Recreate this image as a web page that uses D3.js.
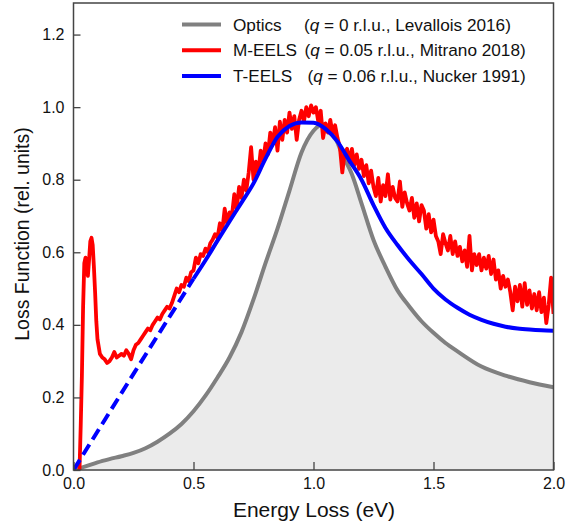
<!DOCTYPE html>
<html>
<head>
<meta charset="utf-8">
<script src="https://cdn.jsdelivr.net/npm/d3@7"></script>
<style>
  body { margin: 0; background: #fff; }
  svg { display: block; font-family: "Liberation Sans", Arial, sans-serif; }
</style>
</head>
<body>
<svg id="chart" width="572" height="522"></svg>
<script>
// Loss function vs energy loss: optics, M-EELS and T-EELS

// Optics (q = 0), Levallois 2016
const opticsE = [0, 0.05, 0.1, 0.15, 0.2, 0.25, 0.3, 0.35, 0.4, 0.45, 0.5, 0.55, 0.6, 0.65, 0.7, 0.75, 0.8, 0.85, 0.9, 0.95, 1.0, 1.04, 1.08, 1.12, 1.16, 1.2, 1.25, 1.3, 1.35, 1.4, 1.45, 1.5, 1.55, 1.6, 1.7, 1.8, 1.9, 2.0];
const opticsL = [0, 0.01, 0.021, 0.03, 0.038, 0.047, 0.06, 0.078, 0.1, 0.127, 0.162, 0.205, 0.255, 0.31, 0.38, 0.47, 0.57, 0.665, 0.77, 0.875, 0.935, 0.953, 0.93, 0.87, 0.815, 0.735, 0.634, 0.56, 0.495, 0.45, 0.41, 0.378, 0.35, 0.327, 0.285, 0.26, 0.242, 0.228];

// T-EELS (q = 0.06), Nucker 1991 -- dashed extrapolation below 0.5 eV
const tEelsDashE = [0, 0.25, 0.5];
const tEelsDashL = [0, 0.265, 0.527];
const tEelsE = [0.5, 0.55, 0.6, 0.65, 0.7, 0.75, 0.8, 0.85, 0.9, 0.95, 1.0, 1.05, 1.1, 1.15, 1.2, 1.25, 1.3, 1.35, 1.4, 1.45, 1.5, 1.55, 1.6, 1.65, 1.7, 1.75, 1.8, 1.85, 1.9, 1.95, 2.0];
const tEelsL = [0.527, 0.578, 0.632, 0.685, 0.737, 0.79, 0.858, 0.918, 0.948, 0.958, 0.957, 0.94, 0.905, 0.852, 0.8, 0.73, 0.667, 0.62, 0.578, 0.54, 0.5, 0.47, 0.447, 0.428, 0.414, 0.403, 0.395, 0.39, 0.387, 0.385, 0.384];

// M-EELS (q = 0.05), Mitrano 2018 -- low-energy elastic line
const mEelsLowE = [0.025, 0.03, 0.035, 0.04, 0.045, 0.05, 0.055, 0.06, 0.065, 0.07, 0.075, 0.08, 0.085, 0.09, 0.095];
const mEelsLowL = [0, 0.12, 0.26, 0.45, 0.57, 0.585, 0.55, 0.535, 0.58, 0.63, 0.64, 0.62, 0.56, 0.49, 0.41];
// then sampled every 0.01 eV from 0.10 to 2.00
const mEelsStart = 0.10, mEelsStep = 0.01;
const mEelsL = [
  0.36, 0.32, 0.31, 0.305, 0.295, 0.30, 0.31, 0.325, 0.31, 0.315,
  0.32, 0.315, 0.33, 0.32, 0.305, 0.33, 0.345, 0.35, 0.36, 0.37,
  0.38, 0.39, 0.385, 0.40, 0.41, 0.42, 0.415, 0.43, 0.44, 0.45,
  0.445, 0.46, 0.48, 0.50, 0.49, 0.51, 0.505, 0.53, 0.52, 0.545,
  0.55, 0.585, 0.57, 0.595, 0.59, 0.61, 0.60, 0.625, 0.635, 0.65,
  0.64, 0.68, 0.66, 0.72, 0.68, 0.71, 0.70, 0.76, 0.72, 0.78,
  0.75, 0.80, 0.77, 0.82, 0.89, 0.80, 0.85, 0.82, 0.88, 0.85,
  0.90, 0.87, 0.93, 0.90, 0.945, 0.88, 0.96, 0.91, 0.965, 0.93,
  0.985, 0.94, 0.975, 0.91, 0.965, 0.99, 0.96, 1.0, 0.975, 1.005,
  0.985, 1.0, 0.96, 0.99, 0.915, 0.955, 0.93, 0.965, 0.925, 0.95,
  0.915, 0.89, 0.82, 0.875, 0.885, 0.85, 0.885, 0.84, 0.87, 0.83,
  0.855, 0.81, 0.84, 0.79, 0.825, 0.78, 0.755, 0.805, 0.74, 0.785,
  0.755, 0.815, 0.745, 0.78, 0.75, 0.74, 0.795, 0.725, 0.765, 0.735,
  0.715, 0.75, 0.695, 0.735, 0.685, 0.73, 0.715, 0.665, 0.705, 0.655,
  0.69, 0.645, 0.63, 0.595, 0.65, 0.625, 0.605, 0.645, 0.595, 0.63,
  0.59, 0.615, 0.575, 0.605, 0.56, 0.645, 0.55, 0.595, 0.565, 0.595,
  0.55, 0.585, 0.555, 0.59, 0.54, 0.58, 0.525, 0.55, 0.50, 0.535,
  0.505, 0.525, 0.49, 0.44, 0.505, 0.465, 0.51, 0.45, 0.515, 0.455,
  0.495, 0.445, 0.485, 0.44, 0.49, 0.435, 0.475, 0.405, 0.455, 0.53,
  0.43
];

const xTicks = [0, 0.5, 1.0, 1.5, 2.0];
const yTicks = [0, 0.2, 0.4, 0.6, 0.8, 1.0, 1.2];

const legendLabels = ["Optics", "M-EELS", "T-EELS"];
const legendNotes = [
  ["0", "Levallois 2016"],
  ["0.05", "Mitrano 2018"],
  ["0.06", "Nucker 1991"]
];
const colors = ["#808080", "#ff0000", "#0000ff"];

const plotLeft = 73.5, plotRight = 553.5, plotTop = 3, plotBottom = 470;

const x = d3.scaleLinear().domain([0, 2]).range([plotLeft, plotRight]);
const y = d3.scaleLinear().domain([0, 1.287]).range([plotBottom, plotTop]);

const svg = d3.select("#chart");

svg.append("defs").append("clipPath").attr("id", "plot")
  .append("rect")
  .attr("x", plotLeft).attr("y", plotTop)
  .attr("width", plotRight - plotLeft).attr("height", plotBottom - plotTop);

const toPts = (xs, ys) => xs.map((e, i) => [e, ys[i]]);
const opticsPts = toPts(opticsE, opticsL);
const redPts = toPts(mEelsLowE, mEelsLowL)
  .concat(mEelsL.map((v, i) => [mEelsStart + i * mEelsStep, v]));

const line = d3.line().x(d => x(d[0])).y(d => y(d[1]));
const smooth = d3.line().x(d => x(d[0])).y(d => y(d[1])).curve(d3.curveMonotoneX);
const area = d3.area().x(d => x(d[0])).y0(y(0)).y1(d => y(d[1])).curve(d3.curveMonotoneX);

const plot = svg.append("g").attr("clip-path", "url(#plot)");

plot.append("path")
  .attr("d", area(opticsPts))
  .attr("fill", "#ebebeb");

plot.append("path")
  .attr("d", smooth(opticsPts))
  .attr("fill", "none")
  .attr("stroke", colors[0])
  .attr("stroke-width", 4);

plot.append("path")
  .attr("d", line(redPts))
  .attr("fill", "none")
  .attr("stroke", colors[1])
  .attr("stroke-width", 3.8)
  .attr("stroke-linejoin", "round");

plot.append("path")
  .attr("d", line(toPts(tEelsDashE, tEelsDashL)))
  .attr("fill", "none")
  .attr("stroke", colors[2])
  .attr("stroke-width", 4)
  .attr("stroke-dasharray", "12,6");

plot.append("path")
  .attr("d", smooth(toPts(tEelsE, tEelsL)))
  .attr("fill", "none")
  .attr("stroke", colors[2])
  .attr("stroke-width", 4);

// axes, ticks pointing inward
const xAxis = svg.append("g")
  .attr("transform", `translate(0,${plotBottom})`)
  .call(d3.axisBottom(x).tickValues(xTicks).tickFormat(d3.format(".1f"))
    .tickSizeInner(-8).tickSizeOuter(0).tickPadding(8));

const yAxis = svg.append("g")
  .attr("transform", `translate(${plotLeft},0)`)
  .call(d3.axisLeft(y).tickValues(yTicks).tickFormat(d3.format(".1f"))
    .tickSizeInner(-7).tickSizeOuter(0).tickPadding(9));

[xAxis, yAxis].forEach(g => {
  g.select(".domain").remove();
  g.selectAll(".tick line").attr("stroke", "#444").attr("stroke-width", 1.3);
  g.selectAll(".tick text")
    .attr("fill", "#111")
    .style("font-size", "16px")
    .style("font-family", "'Liberation Sans', Arial, sans-serif");
});

svg.append("rect")
  .attr("x", plotLeft).attr("y", plotTop)
  .attr("width", plotRight - plotLeft).attr("height", plotBottom - plotTop)
  .attr("fill", "none")
  .attr("stroke", "#444")
  .attr("stroke-width", 1.5);

svg.append("text")
  .attr("x", 314)
  .attr("y", 517)
  .attr("text-anchor", "middle")
  .style("font-size", "21px")
  .attr("fill", "#111")
  .text("Energy Loss (eV)");

svg.append("text")
  .attr("transform", "translate(29,234) rotate(-90)")
  .attr("text-anchor", "middle")
  .style("font-size", "19.5px")
  .attr("fill", "#111")
  .text("Loss Function (rel. units)");

// legend
const legend = svg.append("g");
legendLabels.forEach((lab, i) => {
  const ly = 24.5 + i * 25.8;
  legend.append("line")
    .attr("x1", 182).attr("x2", 221)
    .attr("y1", ly).attr("y2", ly)
    .attr("stroke", colors[i])
    .attr("stroke-width", 4);
  legend.append("text")
    .attr("x", 233).attr("y", ly + 6)
    .style("font-size", "17.2px")
    .attr("fill", "#111")
    .text(lab);
  const note = legend.append("text")
    .attr("x", [304, 304.5, 307.5][i]).attr("y", ly + 6)
    .style("font-size", "17.2px")
    .attr("fill", "#111");
  note.append("tspan").text("(");
  note.append("tspan").style("font-style", "italic").text("q");
  note.append("tspan").text(` = ${legendNotes[i][0]} r.l.u., ${legendNotes[i][1]})`);
});
</script>
</body>
</html>
